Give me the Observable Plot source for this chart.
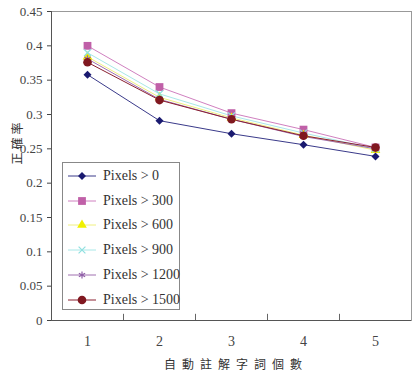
<!DOCTYPE html>
<html><head><meta charset="utf-8">
<script src="https://cdn.jsdelivr.net/npm/d3@7"></script>
<script src="https://cdn.jsdelivr.net/npm/@observablehq/plot@0.6"></script>
<style>
body{margin:0;background:#fff}
#wrap{position:relative;width:412px;height:371px;overflow:hidden}
#wrap svg.chart{position:absolute;left:0;top:0}
#wrap svg.chart text{font-family:"Liberation Serif","DejaVu Serif",serif}
.ytitle{position:absolute;left:16px;top:142px;transform:translate(-50%,-50%) rotate(-90deg);font-family:"Noto Sans CJK TC";font-size:12px;letter-spacing:3px;color:#333;white-space:nowrap}
.xtitle{position:absolute;left:236px;top:363px;transform:translate(-50%,-50%);font-family:"Noto Sans CJK TC";font-size:12px;letter-spacing:6px;color:#333;white-space:nowrap}
.legend{position:absolute;left:62px;top:162px;width:116px;height:146px;border:1px solid #888;background:#fff;box-sizing:content-box}
.legend .row{position:absolute;left:0;height:20px;display:flex;align-items:center;font-family:"Liberation Serif","DejaVu Serif",serif;font-size:14px;color:#333;white-space:nowrap}
.legend .row svg{margin-left:5px;margin-right:7px}
</style></head><body><div id="wrap"></div>
<script>
const xValues = [1, 2, 3, 4, 5];
const xBounds = [1.5, 2.5, 3.5, 4.5];
const yTicks = [0, 0.05, 0.1, 0.15, 0.2, 0.25, 0.3, 0.35, 0.4, 0.45];
const seriesNames = ["Pixels > 0", "Pixels > 300", "Pixels > 600", "Pixels > 900", "Pixels > 1200", "Pixels > 1500"];
const px0    = [0.358, 0.291, 0.272, 0.256, 0.239];
const px300  = [0.400, 0.340, 0.302, 0.278, 0.252];
const px600  = [0.384, 0.325, 0.295, 0.270, 0.248];
const px900  = [0.390, 0.330, 0.298, 0.273, 0.250];
const px1200 = [0.381, 0.322, 0.293, 0.268, 0.250];
const px1500 = [0.376, 0.321, 0.293, 0.269, 0.252];
const seriesValues = [px0, px300, px600, px900, px1200, px1500];
const lineColors = ["#3a3a8a", "#d080c0", "#f0f080", "#a8e8e8", "#a070b0", "#8a2030"];
const markColors = ["#1a1a70", "#c060a8", "#f0f000", "#90e0e0", "#9060a8", "#801820"];
const symbols = ["diamond2", "square", "triangle", "times", "asterisk", "circle"];
const filled = [true, true, true, false, false, true];
const radii = [3.6, 4.4, 3.6, 3.2, 3.4, 4.3];

const rows = [];
seriesNames.forEach((name, i) => seriesValues[i].forEach((v, j) => rows.push({series: name, idx: i, x: xValues[j], y: v})));

const marks = [
  Plot.frame({stroke: "#999"}),
  Plot.axisY({ticks: yTicks, tickFormat: d => String(d), tickSize: 4, tickPadding: 5, label: null, fontSize: 13, fill: "#444"}),
  Plot.axisX({ticks: xValues, tickFormat: d => String(d), tickSize: 0, tickPadding: 16, label: null, fontSize: 14, fill: "#444"}),
  Plot.ruleX(xBounds, {y1: 0, y2: 0.009, stroke: "#666"}),
  Plot.ruleY([0], {stroke: "#555"}),
  Plot.ruleX([0.5], {stroke: "#555"})
];
seriesNames.forEach((name, i) => {
  const d = rows.filter(r => r.idx === i);
  marks.push(Plot.line(d, {x: "x", y: "y", stroke: lineColors[i], strokeWidth: 1}));
});
seriesNames.forEach((name, i) => {
  const d = rows.filter(r => r.idx === i);
  marks.push(Plot.dot(d, filled[i]
    ? {x: "x", y: "y", symbol: () => symbols[i], r: radii[i], fill: markColors[i], stroke: "none"}
    : {x: "x", y: "y", symbol: () => symbols[i], r: radii[i], stroke: markColors[i], strokeWidth: 1.2}));
});

const chart = Plot.plot({
  width: 412, height: 371,
  marginLeft: 51, marginRight: 1, marginTop: 11, marginBottom: 51,
  style: {fontFamily: "'Liberation Serif', 'DejaVu Serif', serif", fontSize: "13px", color: "#444", background: "#fff"},
  x: {type: "linear", domain: [0.5, 5.5], axis: null},
  y: {domain: [0, 0.45], axis: null},
  symbol: {type: "identity"},
  marks
});
chart.classList.add("chart");
const wrap = document.getElementById("wrap");
wrap.appendChild(chart);

const yt = document.createElement("div"); yt.className = "ytitle"; yt.textContent = "正確率"; wrap.appendChild(yt);
const xt = document.createElement("div"); xt.className = "xtitle"; xt.textContent = "自動註解字詞個數"; wrap.appendChild(xt);

const symMap = {diamond2: d3.symbolDiamond2, square: d3.symbolSquare, triangle: d3.symbolTriangle, times: d3.symbolTimes, asterisk: d3.symbolAsterisk, circle: d3.symbolCircle};
const leg = document.createElement("div"); leg.className = "legend"; wrap.appendChild(leg);
seriesNames.forEach((name, i) => {
  const row = document.createElement("div"); row.className = "row";
  row.style.top = (3 + i * 24.7) + "px";
  const s = d3.create("svg").attr("width", 28).attr("height", 12);
  s.append("line").attr("x1", 0).attr("x2", 28).attr("y1", 6).attr("y2", 6).attr("stroke", lineColors[i]).attr("stroke-width", 1);
  const p = s.append("path").attr("transform", "translate(14,6)")
    .attr("d", d3.symbol(symMap[symbols[i]], Math.PI * radii[i] * radii[i])());
  if (filled[i]) p.attr("fill", markColors[i]); else p.attr("fill", "none").attr("stroke", markColors[i]).attr("stroke-width", 1.2);
  row.appendChild(s.node());
  const t = document.createElement("span"); t.textContent = name; row.appendChild(t);
  leg.appendChild(row);
});
</script>
</body></html>
